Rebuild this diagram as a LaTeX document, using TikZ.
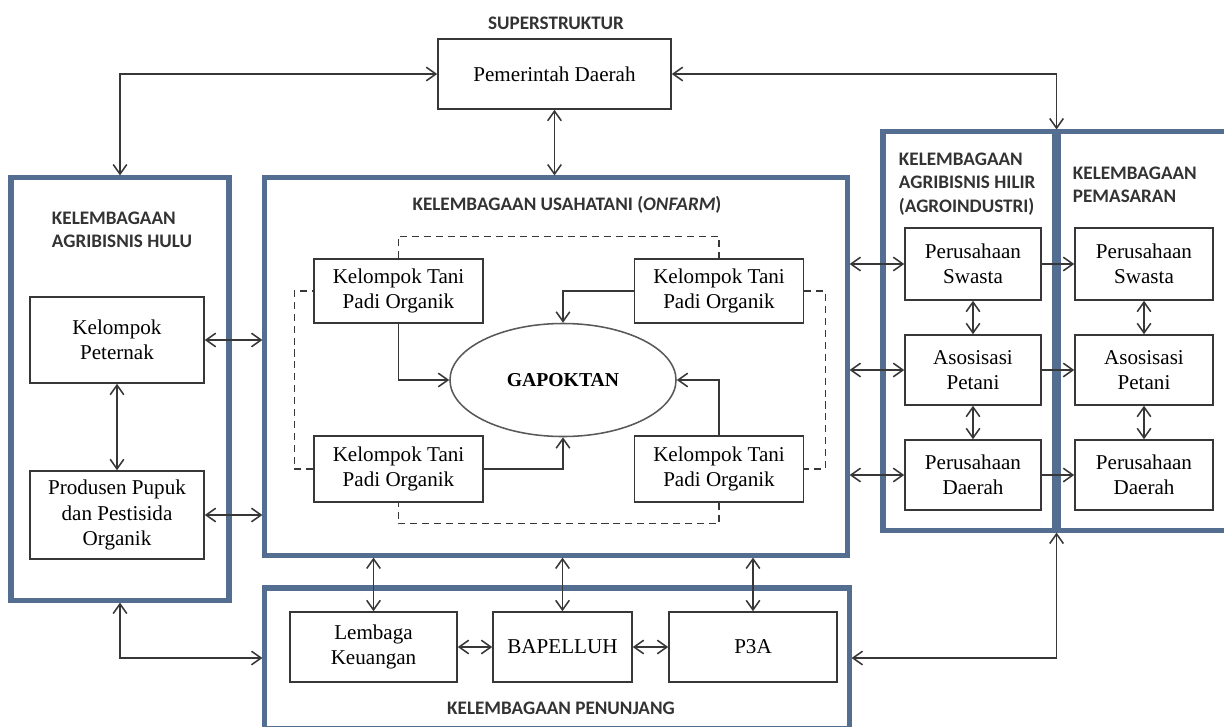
\documentclass[tikz,border=0pt]{standalone}
\usepackage{fontspec}
\setmainfont{Liberation Serif}
\newfontfamily\lblfont{Carlito}
\usetikzlibrary{arrows.meta,shapes.geometric}
\definecolor{frameblue}{RGB}{84,110,145}
\definecolor{boxgray}{RGB}{55,55,55}
\tikzset{
  box/.style={draw=boxgray, line width=1.1pt, align=center, inner sep=2pt,
    font=\fontsize{15}{18}\selectfont},
  wrap/.style={draw=frameblue, line width=3.6pt, inner sep=0pt},
  lbl/.style={font=\lblfont\bfseries\fontsize{13.6}{16.5}\selectfont, text=black!80, align=left},
  conn/.style={draw=boxgray, line width=1.1pt},
  dashline/.style={draw=boxgray, line width=0.9pt, dash pattern=on 5pt off 3.5pt},
  >={Straight Barb[length=2.4mm,width=3.4mm]}
}
\begin{document}
\begin{tikzpicture}[x=0.025cm, y=-0.025cm]
    \useasboundingbox (0,0) rectangle (1224,726);

    % Superstruktur
    \node[lbl] (lblSuper) at (556,23) {SUPERSTRUKTUR};
    \node[box, minimum width=5.825cm, minimum height=1.75cm] (pemda) at (554.5,74) {Pemerintah Daerah};

    % Outer frames
    \node[wrap, minimum width=5.45cm, minimum height=10.55cm] (hulu) at (120,389) {};
    \node[wrap, minimum width=14.55cm, minimum height=9.425cm] (usaha) at (556,366.5) {};
    \node[wrap, minimum width=14.6cm, minimum height=3.5cm] (penunjang) at (557,658) {};
    \node[wrap, minimum width=4.275cm, minimum height=9.95cm] (hilir) at (968.5,331) {};
    \node[wrap, minimum width=4.35cm, minimum height=9.95cm] (pasar) at (1145,331) {};

    % Frame labels
    \node[lbl, anchor=west] (lblHulu) at (47,230) {KELEMBAGAAN\\AGRIBISNIS HULU};
    \node[lbl] (lblUsaha) at (567,205) {KELEMBAGAAN USAHATANI (\textit{ONFARM})};
    \node[lbl, anchor=west] (lblHilir) at (894,184) {KELEMBAGAAN\\AGRIBISNIS HILIR\\(AGROINDUSTRI)};
    \node[lbl, anchor=west] (lblPasar) at (1068,185) {KELEMBAGAAN\\PEMASARAN};
    \node[lbl] (lblPenunjang) at (561,708) {KELEMBAGAAN PENUNJANG};

    % Agribisnis hulu
    \node[box, minimum width=4.35cm, minimum height=2.15cm] (peternak) at (117,340) {Kelompok\\Peternak};
    \node[box, minimum width=4.35cm, minimum height=2.2cm] (produsen) at (117,515) {Produsen Pupuk\\dan Pestisida\\Organik};

    % Usahatani
    \node[box, minimum width=4.225cm, minimum height=1.6cm] (ktTL) at (398.5,291) {Kelompok Tani\\Padi Organik};
    \node[box, minimum width=4.225cm, minimum height=1.6cm] (ktTR) at (719,291) {Kelompok Tani\\Padi Organik};
    \node[box, minimum width=4.225cm, minimum height=1.65cm] (ktBL) at (398.5,469) {Kelompok Tani\\Padi Organik};
    \node[box, minimum width=4.225cm, minimum height=1.65cm] (ktBR) at (719,469) {Kelompok Tani\\Padi Organik};
    \node[box, ellipse, draw=gray!70!black, minimum width=5.65cm, minimum height=2.825cm,
      font=\bfseries\fontsize{14}{18}\selectfont] (gap) at (563,380) {GAPOKTAN};

    % Hilir and pemasaran
    \node[box, minimum width=3.4cm, minimum height=1.8cm] (hsw) at (973,264) {Perusahaan\\Swasta};
    \node[box, minimum width=3.4cm, minimum height=1.75cm] (hap) at (973,370) {Asosisasi\\Petani};
    \node[box, minimum width=3.4cm, minimum height=1.75cm] (hpd) at (973,475) {Perusahaan\\Daerah};
    \node[box, minimum width=3.45cm, minimum height=1.8cm] (msw) at (1144,264) {Perusahaan\\Swasta};
    \node[box, minimum width=3.45cm, minimum height=1.75cm] (map) at (1144,370) {Asosisasi\\Petani};
    \node[box, minimum width=3.45cm, minimum height=1.75cm] (mpd) at (1144,475) {Perusahaan\\Daerah};

    % Penunjang
    \node[box, minimum width=4.175cm, minimum height=1.75cm] (lembaga) at (373.5,647) {Lembaga\\Keuangan};
    \node[box, minimum width=3.475cm, minimum height=1.75cm] (bapelluh) at (562.5,647) {BAPELLUH};
    \node[box, minimum width=4.2cm, minimum height=1.75cm] (p3a) at (753,647) {P3A};

    % Links to the superstructure
    \draw[conn, <->] (hulu.north) |- (pemda.west);
    \draw[conn, <->] (pemda.east) -| (hilir.north east);
    \draw[conn, <->] (pemda.south) -- (pemda.south |- usaha.north);

    % Links inside hulu
    \draw[conn, <->] (peternak.south) -- (produsen.north);
    \draw[conn, <->] (peternak.east) -- (peternak.east -| usaha.west);
    \draw[conn, <->] (produsen.east) -- (produsen.east -| usaha.west);

    % Kelompok tani to gapoktan
    \draw[conn, ->] (ktTL.south) |- (gap.west);
    \draw[conn, ->] (ktTR.west) -| (gap.north);
    \draw[conn, ->] (ktBL.east) -| (gap.south);
    \draw[conn, ->] (ktBR.north) |- (gap.east);

    % Dashed ring between the groups
    \draw[dashline] (ktTL.north) -- ++(0,-22) -| (ktTR.north);
    \draw[dashline] (ktTR.east) -- ++(21,0) |- (ktBR.east);
    \draw[dashline] (ktBR.south) -- ++(0,21) -| (ktBL.south);
    \draw[dashline] (ktBL.west) -- ++(-19,0) |- (ktTL.west);

    % Hilir and pemasaran links
    \foreach \r in {sw,ap,pd} {
        \draw[conn, <->] (h\r.west -| usaha.east) -- (h\r.west);
        \draw[conn, ->] (h\r.east) -- (m\r.west);
    }
    \draw[conn, <->] (hsw.south) -- (hap.north);
    \draw[conn, <->] (hap.south) -- (hpd.north);
    \draw[conn, <->] (msw.south) -- (map.north);
    \draw[conn, <->] (map.south) -- (mpd.north);

    % Penunjang links
    \draw[conn, <->] (hulu.south) |- (penunjang.west);
    \draw[conn, <->] (penunjang.east) -| (hilir.south east);
    \foreach \b in {lembaga,bapelluh,p3a}
        \draw[conn, <->] (\b.north |- usaha.south) -- (\b.north);
    \draw[conn, <->] (lembaga.east) -- (bapelluh.west);
    \draw[conn, <->] (bapelluh.east) -- (p3a.west);

\end{tikzpicture}
\end{document}
